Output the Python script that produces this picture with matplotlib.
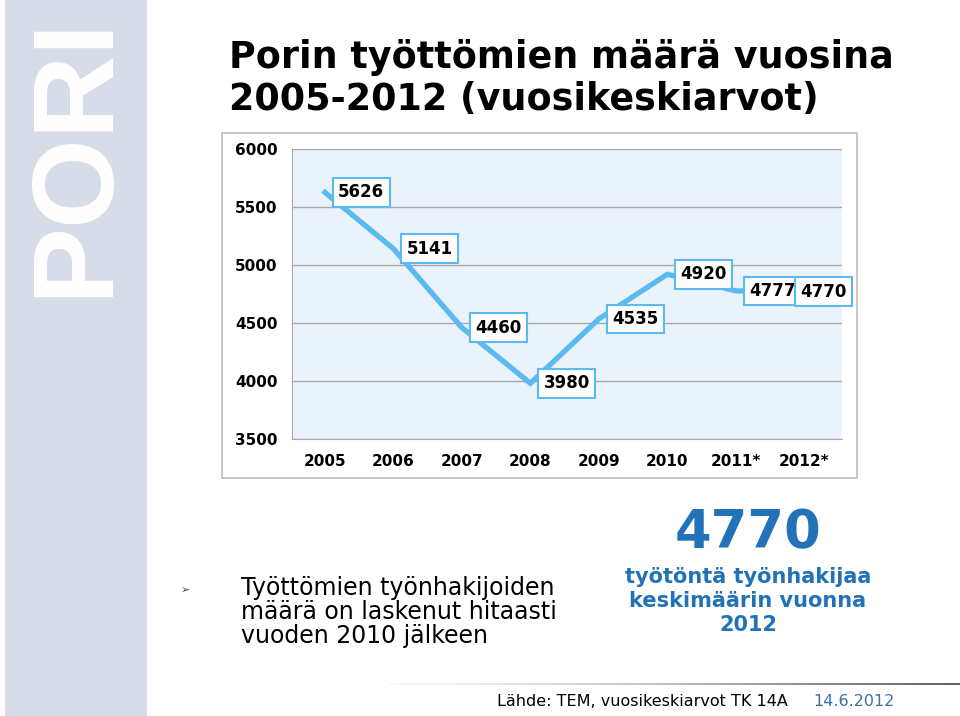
import numpy as np
import matplotlib
matplotlib.use("Agg")
import matplotlib.pyplot as plt
from matplotlib.patches import Rectangle

# data
years = ["2005", "2006", "2007", "2008", "2009", "2010", "2011*", "2012*"]
unemployed = [5626, 5141, 4460, 3980, 4535, 4920, 4777, 4770]
yticks = [3500, 4000, 4500, 5000, 5500, 6000]

line_col = "#5bbaf0"
blue = "#2272b8"

W, H = 960, 716
fig = plt.figure(figsize=(W / 100, H / 100), dpi=100)
fig.patch.set_facecolor("white")

def fx(px):
    return px / W

def fy(py):
    return 1 - py / H

# left side bar with PORI
fig.patches.append(Rectangle((fx(5), 0), fx(142), 1, transform=fig.transFigure,
                             facecolor="#d6dce8", edgecolor="none", zorder=-2))
fig.text(fx(76), fy(156), "PORI", rotation=90, ha="center", va="center",
         color="white", fontsize=83, fontweight="bold", family="Liberation Sans")

# title
fig.text(fx(229), fy(58), "Porin työttömien määrä vuosina", ha="left", va="center",
         fontsize=26.3, fontweight="bold", color="black")
fig.text(fx(229), fy(99), "2005-2012 (vuosikeskiarvot)", ha="left", va="center",
         fontsize=26.3, fontweight="bold", color="black")

# outer chart frame
fig.patches.append(Rectangle((fx(222), fy(478)), fx(635), (478 - 133) / H,
                             transform=fig.transFigure, facecolor="white",
                             edgecolor="#bdbdbd", lw=1.2, zorder=-1))

ax = fig.add_axes([fx(292), fy(439), fx(550), (439 - 149) / H])
ax.set_zorder(1)
ax.set_facecolor("#eaf3fb")
x = np.arange(len(years))
ax.plot(x, unemployed, color=line_col, lw=3.8, solid_joinstyle="miter", zorder=3)
ax.set_xlim(-0.48, 7.55)
ax.set_ylim(3500, 6000)
ax.set_yticks(yticks)
ax.set_yticklabels([str(v) for v in yticks], fontsize=11, fontweight="bold")
ax.set_xticks(x)
ax.set_xticklabels(years, fontsize=11, fontweight="bold")
ax.tick_params(axis="both", length=0)
ax.tick_params(axis="y", pad=10.5)
ax.tick_params(axis="x", pad=11)
ax.yaxis.grid(True, color="#a8a8a8", lw=1)
ax.set_axisbelow(True)
for s in ["right", "top"]:
    ax.spines[s].set_visible(False)
for s in ["left", "bottom"]:
    ax.spines[s].set_color("#a8a8a8")

for i, v in enumerate(unemployed):
    off = -2.7 if i == len(unemployed) - 1 else 9.6
    ax.annotate(str(v), (x[i], v), xytext=(off, 0), textcoords="offset points",
                ha="left", va="center", fontsize=12, fontweight="bold", zorder=5,
                annotation_clip=False,
                bbox=dict(boxstyle="square,pad=0.32", fc="white", ec=line_col, lw=1.5))

# bullet text
fig.text(fx(185), fy(590), "\u27a2", ha="center", va="center", fontsize=8, color="#444444")
fig.text(fx(241), fy(612), "Työttömien työnhakijoiden\nmäärä on laskenut hitaasti\nvuoden 2010 jälkeen",
         ha="left", va="center", fontsize=17, color="black", linespacing=1.02)

# big number
fig.text(fx(748), fy(533), "4770", ha="center", va="center", fontsize=38,
         fontweight="bold", color=blue)
fig.text(fx(748), fy(601), "työtöntä työnhakijaa\nkeskimäärin vuonna\n2012", ha="center",
         va="center", fontsize=15, fontweight="bold", color=blue, linespacing=1.25)

# footer gradient line
gax = fig.add_axes([fx(390), fy(685), fx(570), 2.5 / H])
grad = np.linspace(0, 1, 256).reshape(1, -1)
gax.imshow(grad, aspect="auto", cmap="Greys", vmin=-0.1, vmax=1.5)
gax.axis("off")

fig.text(fx(497), fy(702), "Lähde: TEM, vuosikeskiarvot TK 14A", ha="left", va="center",
         fontsize=11.5, color="black")
fig.text(fx(813), fy(702), "14.6.2012", ha="left", va="center", fontsize=11.5, color="#3d6fa8")

fig.savefig("out.png", dpi=100)
